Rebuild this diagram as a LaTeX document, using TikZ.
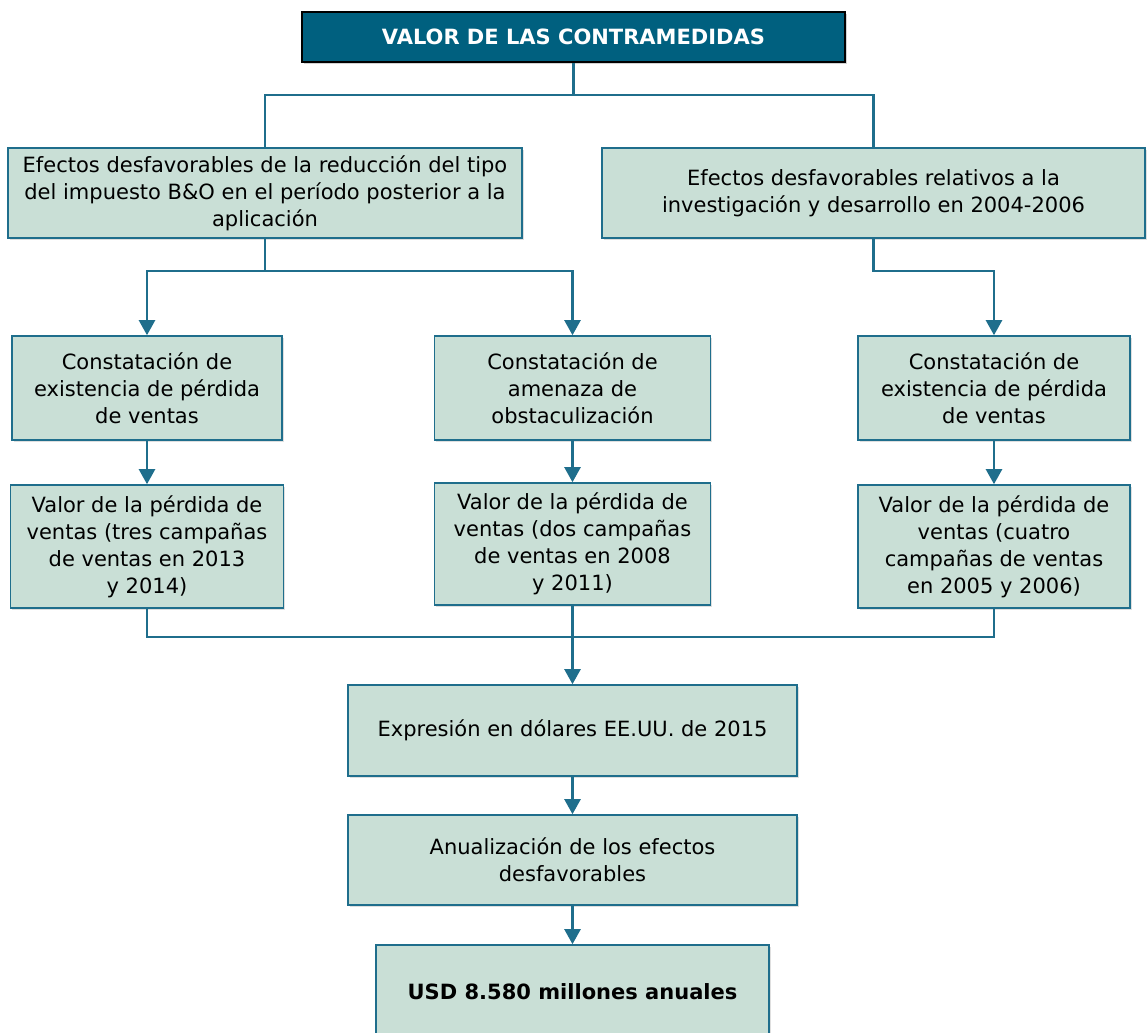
\documentclass[tikz,border=0pt]{standalone}
\usepackage{fontspec}
\setmainfont{DejaVu Sans}
\usetikzlibrary{positioning, arrows.meta, shadows}

\definecolor{tealdark}{HTML}{00607F}
\definecolor{tealline}{HTML}{1F6E8C}
\definecolor{boxfill}{HTML}{C9DFD6}

\begin{document}
\begin{tikzpicture}[x=0.5pt, y=-0.5pt,
      box/.style={rectangle, draw=tealline, line width=0.8pt, fill=boxfill,
        align=center, inner sep=0pt, font=\fontsize{10.5}{13.5}\selectfont,
        drop shadow={shadow xshift=0.8pt, shadow yshift=-0.8pt, opacity=0.25}},
      titlebox/.style={rectangle, draw=black, line width=1pt, fill=tealdark,
        text=white, align=center, inner sep=0pt,
        font=\fontsize{10.5}{13.5}\selectfont\bfseries,
        drop shadow={shadow xshift=1pt, shadow yshift=-1pt, opacity=0.35}},
      link/.style={draw=tealline, line width=1.2pt},
      arrow/.style={link, -{Triangle[length=7.5pt, width=8pt]}}
    ]
    \useasboundingbox (0,0) rectangle (1147,1033);
    % title
    \node[titlebox, minimum width=271.5pt, minimum height=25pt] (top) at (573.5,37)
      {VALOR DE LAS CONTRAMEDIDAS};
    % first level
    \node[box, minimum width=257pt, minimum height=45pt] (eff1) at (265,193)
      {Efectos desfavorables de la reducción del tipo\\del impuesto B\&O en el período posterior a la\\aplicación};
    \node[box, minimum width=271.5pt, minimum height=45pt] (eff2) at (873.5,193)
      {Efectos desfavorables relativos a la\\investigación y desarrollo en 2004-2006};
    % second level
    \node[box, minimum width=135pt, minimum height=52pt] (constA) at (147,388)
      {Constatación de\\existencia de pérdida\\de ventas};
    \node[box, minimum width=138pt, minimum height=52pt] (constB) at (572.5,388)
      {Constatación de\\amenaza de\\obstaculización};
    \node[box, minimum width=136pt, minimum height=52pt] (constC) at (994,388)
      {Constatación de\\existencia de pérdida\\de ventas};
    % third level
    \node[box, minimum width=136.5pt, minimum height=61.5pt] (valA) at (147,546.5)
      {Valor de la pérdida de\\ventas (tres campañas\\de ventas en 2013\\y 2014)};
    \node[box, minimum width=138pt, minimum height=61pt] (valB) at (572.5,544)
      {Valor de la pérdida de\\ventas (dos campañas\\de ventas en 2008\\y 2011)};
    \node[box, minimum width=136pt, minimum height=61.5pt] (valC) at (994,546.5)
      {Valor de la pérdida de\\ventas (cuatro\\campañas de ventas\\en 2005 y 2006)};
    % bottom chain
    \node[box, minimum width=224.5pt, minimum height=45.5pt] (expr) at (572.5,730.5)
      {Expresión en dólares EE.UU. de 2015};
    \node[box, minimum width=224.5pt, minimum height=45pt] (anual) at (572.5,860)
      {Anualización de los efectos\\desfavorables};
    \node[box, minimum width=196.5pt, minimum height=47pt, font=\fontsize{10.5}{13.5}\selectfont\bfseries] (result) at (572.5,992)
      {USD 8.580 millones anuales};

    \coordinate (hubtop) at (573.5,95);
    \coordinate (bus) at (572.5,637);

    % connectors
    \draw[link] (top.south) -- (hubtop);
    \draw[link] (eff1.north) |- (hubtop) -| (eff2.north);
    \draw[arrow] (eff1.south) -- ++(0,32) -| (constA.north);
    \draw[arrow] (eff1.south) -- ++(0,32) -| (constB.north);
    \draw[arrow] (eff2.south) -- ++(0,32) -| (constC.north);
    \draw[arrow] (constA.south) -- (valA.north);
    \draw[arrow] (constB.south) -- (valB.north);
    \draw[arrow] (constC.south) -- (valC.north);
    \draw[link] (valA.south) |- (bus) -| (valC.south);
    \draw[link] (valB.south) -- (bus);
    \draw[arrow] (bus) -- (expr.north);
    \draw[arrow] (expr.south) -- (anual.north);
    \draw[arrow] (anual.south) -- (result.north);
  \end{tikzpicture}
\end{document}
